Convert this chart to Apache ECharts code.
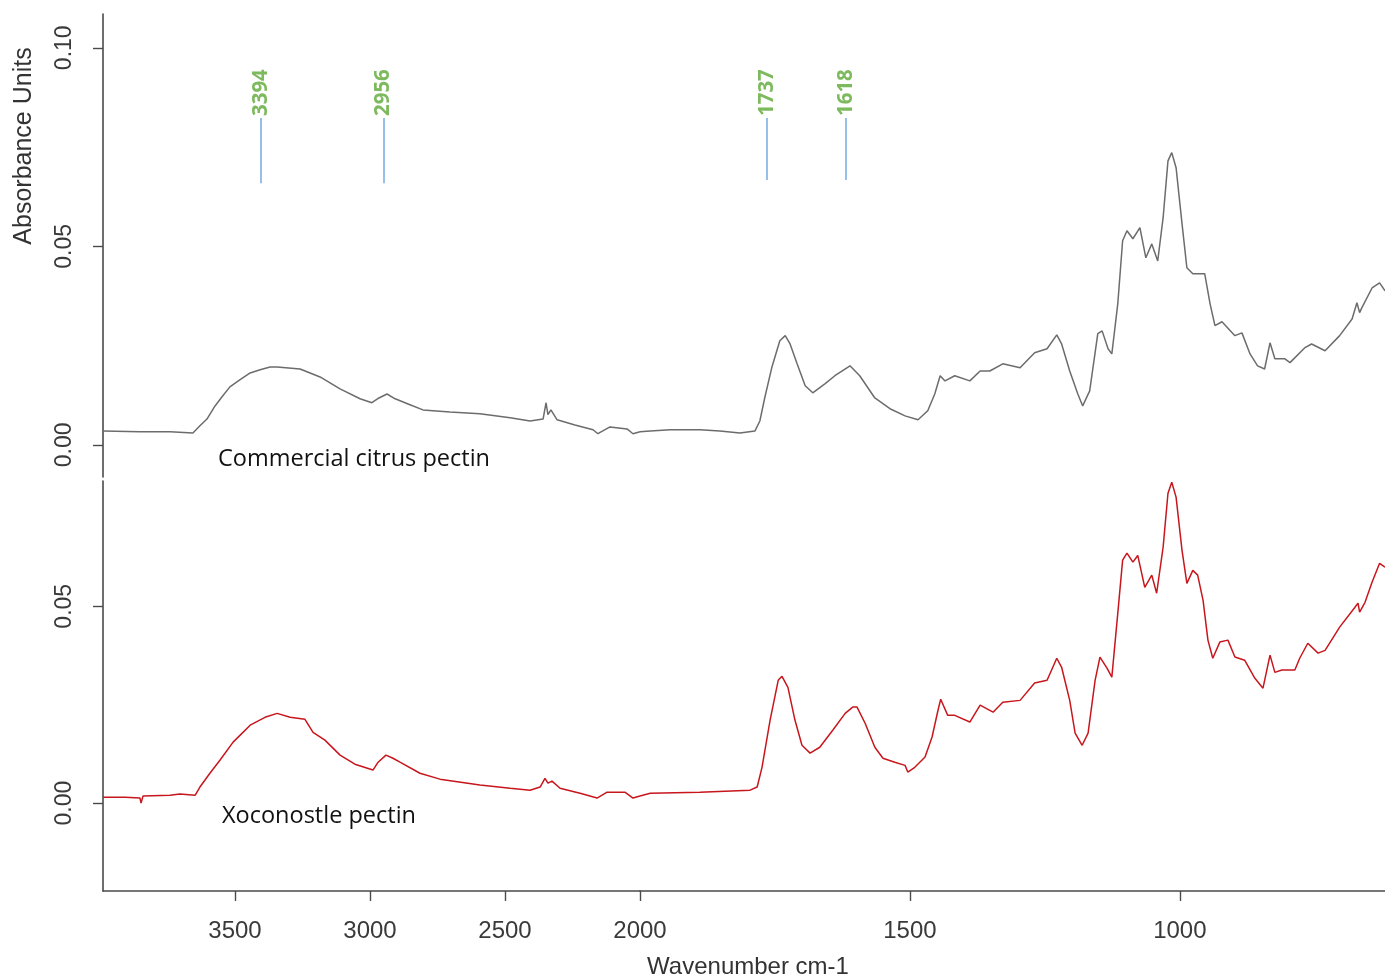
<!DOCTYPE html>
<html><head><meta charset="utf-8">
<script src="https://cdn.jsdelivr.net/npm/echarts@6/dist/echarts.min.js"></script>
<style>html,body{margin:0;padding:0;background:#fff}#c{width:1385px;height:976px}</style>
</head><body><div id="c"></div>
<script>
// ---- Data (wavenumber in cm-1, absorbance units) ----
const commercialWavenumber = [
 3989,3852,3741,3656,3630,3604,3574,3548,3519,3481,3444,3407,3370,3344,
 3259,3185,3111,3037,2993,2967,2937,2907,2852,2804,
 2704,2593,2481,2407,2359,2348,2341,2330,2307,2241,
 2174,2156,2111,2048,2026,2000,1981,1944,1889,1852,
 1815,1787,1778,1769,1756,1741,1731,1722,1709,1694,
 1680,1657,1639,1611,1593,1565,1537,1509,1485,1467,
 1454,1444,1435,1417,1389,1370,1352,1328,1296,1269,
 1246,1228,1219,1204,1189,1180,1167,1152,1144,1133,
 1126,1115,1106,1098,1087,1074,1063,1052,1041,1031,
 1022,1015,1007,996,987,976,954,944,935,922,
 898,885,870,856,843,833,824,806,796,769,
 756,731,704,681,672,667,663,644,630,620
];
const commercialAbsorbance = [
 .0035,.0033,.0033,.0030,.0048,.0065,.0098,.0121,.0146,.0164,.0181,.0189,.0196,.0196,
 .0191,.0171,.0141,.0116,.0106,.0118,.0128,.0116,.0101,.0088,
 .0083,.0078,.0068,.0060,.0065,.0106,.0076,.0088,.0063,.0050,
 .0038,.0028,.0045,.0040,.0028,.0033,.0035,.0038,.0038,.0035,
 .0030,.0035,.0060,.0118,.0194,.0262,.0275,.0254,.0204,.0149,
 .0131,.0154,.0174,.0199,.0174,.0118,.0091,.0073,.0063,.0086,
 .0128,.0174,.0161,.0174,.0161,.0186,.0186,.0204,.0194,.0232,
 .0242,.0277,.0254,.0186,.0128,.0098,.0136,.0280,.0287,.0242,
 .0229,.0355,.0514,.0539,.0519,.0547,.0471,.0506,.0463,.0572,
 .0715,.0736,.0698,.0557,.0446,.0431,.0431,.0355,.0300,.0310,
 .0275,.0282,.0229,.0199,.0191,.0257,.0217,.0217,.0207,.0244,
 .0254,.0237,.0275,.0317,.0358,.0333,.0345,.0395,.0408,.0388
];
const xoconostleWavenumber = [
 3989,3907,3852,3848,3841,3741,3704,3648,3630,3593,
 3556,3507,3444,3389,3344,3296,3241,3211,3167,3111,
 3056,2989,2970,2941,2915,2889,2815,2741,2593,2481,
 2407,2370,2352,2341,2326,2296,2222,2159,2122,2056,
 2026,2000,1981,1889,1796,1783,1774,1759,1744,1737,
 1726,1713,1700,1685,1667,1643,1620,1606,1598,1583,
 1565,1550,1528,1509,1504,1491,1472,1459,1448,1443,
 1430,1417,1389,1370,1346,1328,1296,1269,1246,1228,
 1219,1204,1194,1181,1170,1157,1148,1135,1126,1115,
 1106,1098,1087,1078,1065,1052,1043,1031,1022,1015,
 1007,996,987,976,967,957,948,939,926,911,
 898,880,861,846,833,824,811,787,778,763,
 744,731,704,676,670,667,657,644,630,620
];
const xoconostleAbsorbance = [
 .0015,.0015,.0013,.0000,.0018,.0020,.0023,.0020,.0041,.0076,
 .0109,.0155,.0198,.0218,.0228,.0218,.0213,.0180,.0160,.0122,
 .0099,.0084,.0104,.0122,.0114,.0104,.0076,.0061,.0046,.0038,
 .0033,.0041,.0063,.0051,.0056,.0038,.0025,.0013,.0028,.0028,
 .0013,.0018,.0025,.0028,.0033,.0041,.0091,.0211,.0312,.0322,
 .0294,.0211,.0147,.0127,.0142,.0185,.0228,.0244,.0244,.0203,
 .0142,.0114,.0104,.0096,.0079,.0091,.0117,.0168,.0236,.0264,
 .0223,.0223,.0206,.0249,.0231,.0256,.0261,.0305,.0312,.0368,
 .0345,.0261,.0178,.0147,.0178,.0312,.0371,.0343,.0320,.0482,
 .0617,.0635,.0612,.0629,.0548,.0579,.0533,.0650,.0787,.0815,
 .0777,.0642,.0558,.0591,.0579,.0515,.0414,.0368,.0409,.0414,
 .0371,.0363,.0317,.0292,.0376,.0332,.0338,.0338,.0368,.0406,
 .0381,.0388,.0447,.0497,.0508,.0485,.0510,.0561,.0609,.0599
];
// peak annotations: label text and where their marker lines are drawn
const peakLabels = ['3394', '2956', '1737', '1618'];
const peakLinePositions = [3404, 2950, 1765, 1619];
const peakLineBottom = [0.0659, 0.0659, 0.0667, 0.0667];
const peakLineTop = 0.0823;
const peakLabelBase = 0.0828;
// axis ticks
const xTicksHigh = [3500, 3000, 2500, 2000];
const xTicksLow = [1500, 1000];
const yTicksTop = [0, 0.05, 0.10];
const yTicksBottom = [0, 0.05];

// ---- Build ----
const BREAK = 2000;
const isHigh = w => w >= BREAK, isLow = w => w <= BREAK;
function pairs(ws, as, pred) {
  const out = [];
  for (let i = 0; i < ws.length; i++) if (pred(ws[i])) out.push([ws[i], as[i]]);
  return out;
}
const axisColor = '#4a4a4a';
const numFont = 'Liberation Sans, Arial, sans-serif';

function xAx(gi, min, max, show, ticks) {
  return {
    type: 'value', gridIndex: gi, min: min, max: max, inverse: true, show: show,
    axisLine: { show: true, onZero: false, lineStyle: { color: axisColor, width: 1.6 } },
    axisTick: { show: true, length: 10, customValues: ticks, lineStyle: { color: axisColor, width: 1.4 } },
    axisLabel: { show: true, customValues: ticks, margin: 28, fontSize: 24, color: '#3a3a3a', fontFamily: numFont,
      formatter: v => String(Math.round(v)) },
    splitLine: { show: false }
  };
}
function yAx(gi, min, max, show, ticks) {
  return {
    type: 'value', gridIndex: gi, min: min, max: max, show: show,
    axisLine: { show: true, onZero: false, lineStyle: { color: axisColor, width: 1.6 } },
    axisTick: { show: true, length: 10, customValues: ticks, lineStyle: { color: axisColor, width: 1.4 } },
    axisLabel: { show: true, customValues: ticks, rotate: 90, margin: 27, fontSize: 23, color: '#3a3a3a',
      fontFamily: numFont, formatter: v => Number(v).toFixed(2) },
    splitLine: { show: false }
  };
}

function peakLines(pred) {
  const d = [];
  for (let i = 0; i < peakLabels.length; i++) {
    if (pred(peakLinePositions[i]))
      d.push([{ coord: [peakLinePositions[i], peakLineBottom[i]] }, { coord: [peakLinePositions[i], peakLineTop] }]);
  }
  return d;
}
function peakTexts(pred) {
  const d = [];
  for (let i = 0; i < peakLabels.length; i++) {
    if (pred(peakLinePositions[i])) d.push({ name: peakLabels[i], value: [peakLinePositions[i], peakLabelBase] });
  }
  return d;
}
const mlStyle = {
  silent: true, animation: false, symbol: ['none', 'none'], label: { show: false },
  lineStyle: { color: '#7cb0e4', width: 1.6, type: 'solid' }, emphasis: { disabled: true }
};
function labelSeries(xi, pred) {
  return {
    type: 'scatter', xAxisIndex: xi, yAxisIndex: xi, symbolSize: 1, silent: true,
    itemStyle: { color: 'rgba(0,0,0,0)' },
    data: peakTexts(pred),
    label: { show: true, position: 'inside', formatter: '{b}', rotate: 90, align: 'left', verticalAlign: 'middle',
      color: '#5ca834', fontSize: 20.5, fontWeight: 'bold', fontFamily: 'Open Sans, sans-serif' }
  };
}
const grayLine = { color: '#6c6c6c', width: 1.5 };
const redLine = { color: '#c8161d', width: 1.5 };

const chart = echarts.init(document.getElementById('c'), null, { renderer: 'canvas' });
chart.setOption({
  animation: false,
  backgroundColor: '#ffffff',
  grid: [
    { left: 103, top: 14, width: 537, height: 463 },
    { left: 640, top: 14, width: 745, height: 463 },
    { left: 103, top: 481, width: 537, height: 410 },
    { left: 640, top: 481, width: 745, height: 410 }
  ],
  xAxis: [
    xAx(0, 2000, 3989, false, xTicksHigh),
    xAx(1, 620, 2000, false, xTicksLow),
    xAx(2, 2000, 3989, true, xTicksHigh),
    xAx(3, 620, 2000, true, xTicksLow)
  ],
  yAxis: [
    yAx(0, -0.0081, 0.1085, true, yTicksTop),
    yAx(1, -0.0081, 0.1085, false, yTicksTop),
    yAx(2, -0.0223, 0.0818, true, yTicksBottom),
    yAx(3, -0.0223, 0.0818, false, yTicksBottom)
  ],
  series: [
    { type: 'line', xAxisIndex: 0, yAxisIndex: 0, data: pairs(commercialWavenumber, commercialAbsorbance, isHigh),
      showSymbol: false, symbol: 'none', lineStyle: grayLine, silent: true,
      markLine: Object.assign({ data: peakLines(isHigh) }, mlStyle) },
    { type: 'line', xAxisIndex: 1, yAxisIndex: 1, data: pairs(commercialWavenumber, commercialAbsorbance, isLow),
      showSymbol: false, symbol: 'none', lineStyle: grayLine, silent: true,
      markLine: Object.assign({ data: peakLines(w => w < BREAK) }, mlStyle) },
    { type: 'line', xAxisIndex: 2, yAxisIndex: 2, data: pairs(xoconostleWavenumber, xoconostleAbsorbance, isHigh),
      showSymbol: false, symbol: 'none', lineStyle: redLine, silent: true },
    { type: 'line', xAxisIndex: 3, yAxisIndex: 3, data: pairs(xoconostleWavenumber, xoconostleAbsorbance, isLow),
      showSymbol: false, symbol: 'none', lineStyle: redLine, silent: true },
    labelSeries(0, isHigh),
    labelSeries(1, w => w < BREAK)
  ],
  graphic: [
    { type: 'text', x: 24, y: 146, rotation: Math.PI / 2, silent: true,
      style: { text: 'Absorbance Units', align: 'center', verticalAlign: 'middle', fontSize: 25,
        fontFamily: numFont, fill: '#333' } },
    { type: 'text', x: 748, y: 967, silent: true,
      style: { text: 'Wavenumber cm-1', align: 'center', verticalAlign: 'middle', fontSize: 24,
        fontFamily: numFont, fill: '#333' } },
    { type: 'text', x: 218, y: 459, silent: true,
      style: { text: 'Commercial citrus pectin', align: 'left', verticalAlign: 'middle', fontSize: 23.5,
        fontFamily: 'Open Sans, sans-serif', fill: '#111' } },
    { type: 'text', x: 222, y: 816, silent: true,
      style: { text: 'Xoconostle pectin', align: 'left', verticalAlign: 'middle', fontSize: 23.5,
        fontFamily: 'Open Sans, sans-serif', fill: '#111' } }
  ]
});
</script>
</body></html>
